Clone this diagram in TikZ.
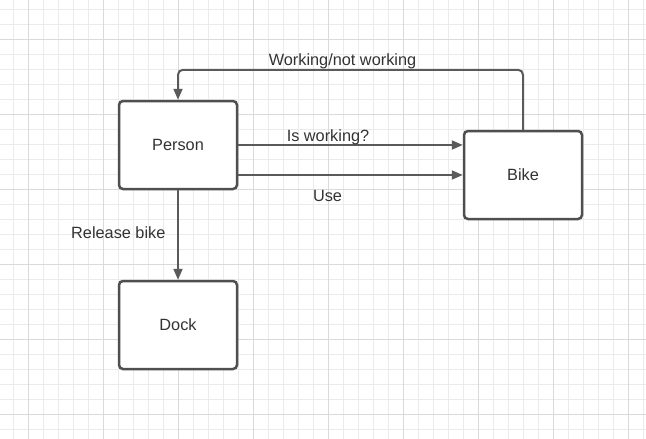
\documentclass[tikz,border=0pt]{standalone}
\usepackage{fontspec}
\setmainfont{Liberation Sans}
\usetikzlibrary{arrows.meta}
\definecolor{gridminor}{HTML}{EBEBEB}
\definecolor{gridmajor}{HTML}{DADADA}
\definecolor{boxline}{HTML}{4F4F4F}
\definecolor{arrowline}{HTML}{5A5A5A}
\definecolor{labeltext}{HTML}{333333}

\begin{document}
\begin{tikzpicture}[x=1pt,y=-1pt,
    block/.style={shape=rectangle,draw=boxline,fill=white,line width=2.5pt,rounded corners=4pt,minimum width=118pt,minimum height=88pt,text=labeltext,font=\fontsize{16.3}{19}\selectfont},
    link/.style={draw=arrowline,line width=2pt,-{Triangle[length=11pt,width=9pt]}},
    tag/.style={anchor=base,inner sep=0pt,text=labeltext,font=\fontsize{16.3}{19}\selectfont}]
    \useasboundingbox (0,0) rectangle (646,439);
    \fill[white] (0,0) rectangle (646,439);
    % grid
    \foreach \i in {0,...,42} \draw[gridminor,line width=1pt] ({13.3+15*\i},0) -- ({13.3+15*\i},439);
    \foreach \i in {0,...,28} \draw[gridminor,line width=1pt] (0,{9.3+15*\i}) -- (646,{9.3+15*\i});
    \foreach \i in {0,...,8} \draw[gridmajor,line width=1pt] ({28.3+75*\i},0) -- ({28.3+75*\i},439);
    \foreach \i in {0,...,5} \draw[gridmajor,line width=1pt] (0,{39.3+75*\i}) -- (646,{39.3+75*\i});

    \node[block] (Person) at (178,145) {Person};
    \node[block] (Bike) at (523,175) {Bike};
    \node[block] (Dock) at (178,325) {Dock};

    \draw[link] (Person.east) -- (Person.east -| Bike.west);
    \draw[link] (Person.east |- Bike.west) -- (Bike.west);
    \draw[link] (Person.south) -- (Dock.north);
    \draw[link,rounded corners=5pt] (Bike.north) -- ++(0,-60) -| (Person.north);

    \node[tag] (fbtag) at (342.5,65.5) {Working/not working};
    \node[tag] (asktag) at (328,141.7) {Is working?};
    \node[tag] (usetag) at (327.5,201.7) {Use};
    \node[tag] (reltag) at (118.3,238) {Release bike};
\end{tikzpicture}
\end{document}
